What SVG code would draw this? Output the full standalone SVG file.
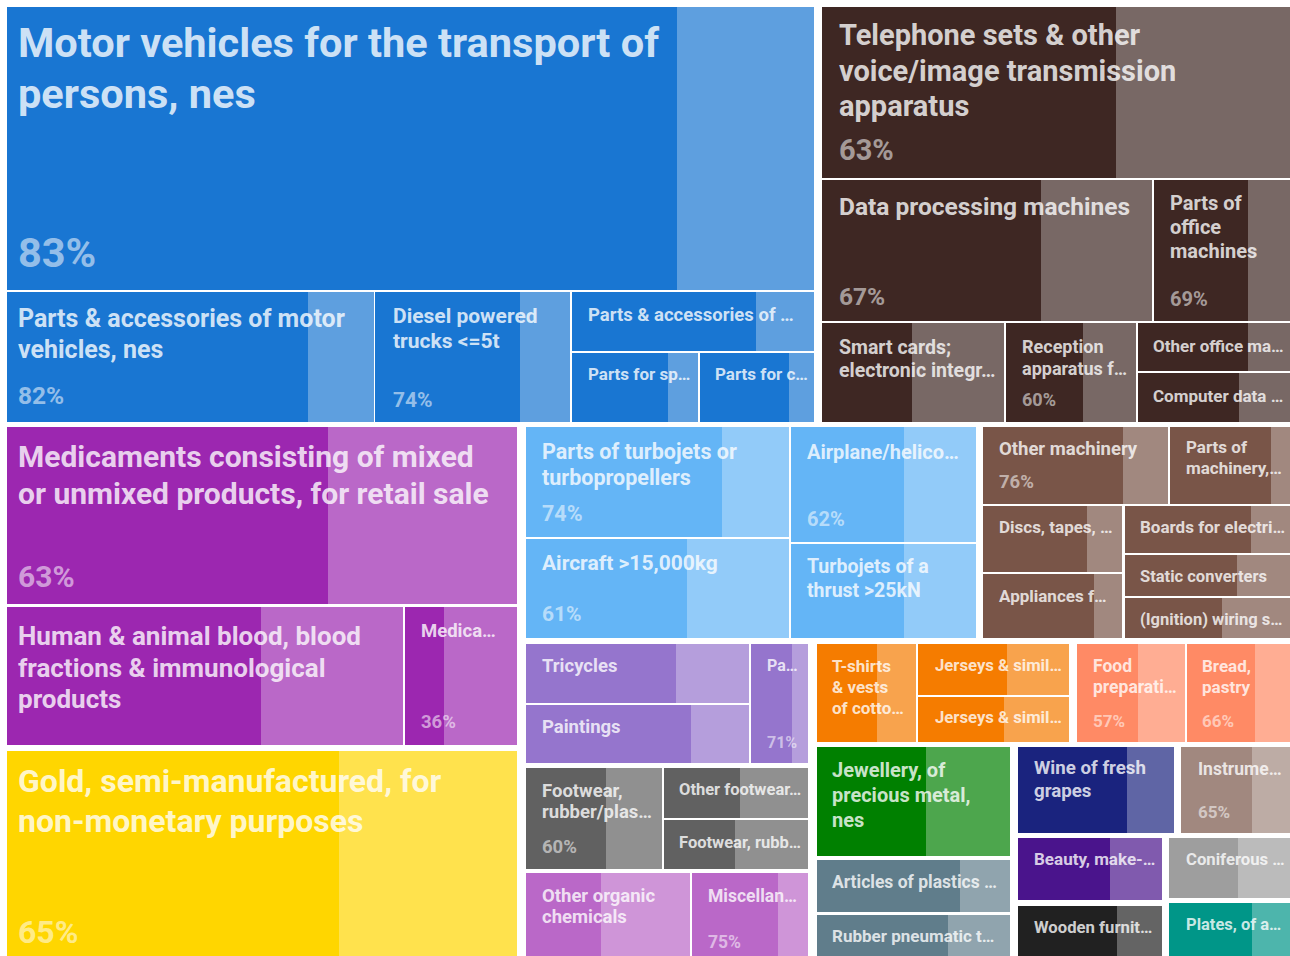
<svg xmlns="http://www.w3.org/2000/svg" width="1290" height="956" viewBox="0 0 1290 956">
<style>
text{font-family:Roboto,"Liberation Sans",Arial,sans-serif;font-weight:700;fill:#fff;fill-opacity:.8}
text.p{fill-opacity:.55}
.lt{fill:#fff;fill-opacity:.3}
.blue{fill:#1976D2}.dbr{fill:#3E2723}.pur{fill:#9C27B0}.yel{fill:#FFD600}.lbl{fill:#64B5F6}
.br2{fill:#795548}.lav{fill:#9575CD}.gry{fill:#616161}.pu2{fill:#BA68C8}.org{fill:#F57C00}
.sal{fill:#FF8A65}.grn{fill:#008000}.bgr{fill:#607D8B}.ind{fill:#1A237E}.br3{fill:#A1887F}
.dpu{fill:#4A148C}.gr2{fill:#9E9E9E}.blk{fill:#212121}.tea{fill:#009688}
.f41{font-size:41.5px}.f32{font-size:32px}.f30{font-size:30px}.f29{font-size:29px}.f26{font-size:26px}.f25{font-size:25px}.f245{font-size:24.5px}.f215{font-size:21.5px}.f21{font-size:21px}.f20{font-size:20px}.f195{font-size:19.5px}.f187{font-size:18.7px}.f185{font-size:18.5px}.f18{font-size:18px}.f175{font-size:17.5px}.f17{font-size:17px}.f167{font-size:16.7px}.f165{font-size:16.5px}.f16{font-size:16px}
</style>
<rect width="1290" height="956" fill="#fff"/>
<g id="connectors"/>

<g id="n-motor-vehicles"><rect class="blue" x="7" y="7" width="807" height="283"/><rect class="lt" x="677" y="7" width="137" height="283"/>
<text class="f41" x="18" y="57">Motor vehicles for the transport of</text><text class="f41" x="18" y="108">persons, nes</text><text class="f41 p" x="18" y="267">83%</text></g>
<g id="n-parts-acc-motor"><rect class="blue" x="7" y="292" width="367" height="130"/><rect class="lt" x="308" y="292" width="66" height="130"/>
<text class="f25" x="18" y="327">Parts &amp; accessories of motor</text><text class="f25" x="18" y="358">vehicles, nes</text><text class="f245 p" x="18" y="404">82%</text></g>
<g id="n-diesel"><rect class="blue" x="375" y="292" width="195" height="130"/><rect class="lt" x="520" y="292" width="50" height="130"/>
<text class="f21" x="393" y="323">Diesel powered</text><text class="f21" x="393" y="348">trucks &lt;=5t</text><text class="f21 p" x="393" y="407">74%</text></g>
<g id="n-parts-acc-2"><rect class="blue" x="572" y="292" width="242" height="59"/><rect class="lt" x="756" y="292" width="58" height="59"/>
<text class="f185" x="588" y="321">Parts &amp; accessories of …</text></g>
<g id="n-parts-sp"><rect class="blue" x="572" y="353" width="126" height="69"/><rect class="lt" x="668" y="353" width="30" height="69"/>
<text class="f17" x="588" y="380">Parts for sp…</text></g>
<g id="n-parts-c"><rect class="blue" x="700" y="353" width="114" height="69"/><rect class="lt" x="789" y="353" width="25" height="69"/>
<text class="f17" x="715" y="380">Parts for c…</text></g>

<g id="n-telephone"><rect class="dbr" x="822" y="7" width="468" height="171"/><rect class="lt" x="1116" y="7" width="174" height="171"/>
<text class="f29" x="839" y="45">Telephone sets &amp; other</text><text class="f29" x="839" y="81">voice/image transmission</text><text class="f29" x="839" y="116">apparatus</text><text class="f29 p" x="839" y="160">63%</text></g>
<g id="n-data-processing"><rect class="dbr" x="822" y="180" width="330" height="141"/><rect class="lt" x="1041" y="180" width="111" height="141"/>
<text class="f245" x="839" y="215">Data processing machines</text><text class="f245 p" x="839" y="305">67%</text></g>
<g id="n-parts-office"><rect class="dbr" x="1154" y="180" width="136" height="141"/><rect class="lt" x="1248" y="180" width="42" height="141"/>
<text class="f20" x="1170" y="210">Parts of</text><text class="f20" x="1170" y="234">office</text><text class="f20" x="1170" y="258">machines</text><text class="f20 p" x="1170" y="306">69%</text></g>
<g id="n-smart-cards"><rect class="dbr" x="822" y="323" width="182" height="99"/><rect class="lt" x="912" y="323" width="92" height="99"/>
<text class="f195" x="839" y="354">Smart cards;</text><text class="f195" x="839" y="377">electronic integr…</text></g>
<g id="n-reception"><rect class="dbr" x="1006" y="323" width="130" height="99"/><rect class="lt" x="1083" y="323" width="53" height="99"/>
<text class="f18" x="1022" y="353">Reception</text><text class="f18" x="1022" y="375">apparatus f…</text><text class="f18 p" x="1022" y="406">60%</text></g>
<g id="n-other-office"><rect class="dbr" x="1138" y="323" width="152" height="48"/><rect class="lt" x="1248" y="323" width="42" height="48"/>
<text class="f17" x="1153" y="352">Other office ma…</text></g>
<g id="n-computer-data"><rect class="dbr" x="1138" y="373" width="152" height="49"/><rect class="lt" x="1239" y="373" width="51" height="49"/>
<text class="f17" x="1153" y="402">Computer data …</text></g>

<g id="n-medicaments"><rect class="pur" x="7" y="427" width="510" height="177"/><rect class="lt" x="328" y="427" width="189" height="177"/>
<text class="f30" x="18" y="467">Medicaments consisting of mixed</text><text class="f30" x="18" y="504">or unmixed products, for retail sale</text><text class="f30 p" x="18" y="587">63%</text></g>
<g id="n-human-blood"><rect class="pur" x="7" y="607" width="396" height="138"/><rect class="lt" x="261" y="607" width="142" height="138"/>
<text class="f26" x="18" y="645">Human &amp; animal blood, blood</text><text class="f26" x="18" y="677">fractions &amp; immunological</text><text class="f26" x="18" y="708">products</text></g>
<g id="n-medica"><rect class="pur" x="405" y="607" width="112" height="138"/><rect class="lt" x="444" y="607" width="73" height="138"/>
<text class="f185" x="421" y="637">Medica…</text><text class="f185 p" x="421" y="728">36%</text></g>

<g id="n-gold"><rect class="yel" x="7" y="751" width="510" height="205"/><rect class="lt" x="339" y="751" width="178" height="205"/>
<text class="f32" x="18" y="792">Gold, semi-manufactured, for</text><text class="f32" x="18" y="832">non-monetary purposes</text><text class="f32 p" x="18" y="943">65%</text></g>

<g id="n-turbojet-parts"><rect class="lbl" x="526" y="427" width="263" height="110"/><rect class="lt" x="722" y="427" width="67" height="110"/>
<text class="f215" x="542" y="459">Parts of turbojets or</text><text class="f215" x="542" y="485">turbopropellers</text><text class="f215 p" x="542" y="521">74%</text></g>
<g id="n-aircraft"><rect class="lbl" x="526" y="539" width="263" height="99"/><rect class="lt" x="687" y="539" width="102" height="99"/>
<text class="f21" x="542" y="570">Aircraft &gt;15,000kg</text><text class="f21 p" x="542" y="621">61%</text></g>
<g id="n-airplane"><rect class="lbl" x="791" y="427" width="185" height="115"/><rect class="lt" x="904" y="427" width="72" height="115"/>
<text class="f20" x="807" y="459">Airplane/helico…</text><text class="f20 p" x="807" y="526">62%</text></g>
<g id="n-turbojets-thrust"><rect class="lbl" x="791" y="544" width="185" height="94"/><rect class="lt" x="904" y="544" width="72" height="94"/>
<text class="f195" x="807" y="573">Turbojets of a</text><text class="f195" x="807" y="597">thrust &gt;25kN</text></g>

<g id="n-other-machinery"><rect class="br2" x="983" y="427" width="185" height="77"/><rect class="lt" x="1123" y="427" width="45" height="77"/>
<text class="f185" x="999" y="455">Other machinery</text><text class="f185 p" x="999" y="488">76%</text></g>
<g id="n-parts-machinery"><rect class="br2" x="1170" y="427" width="120" height="77"/><rect class="lt" x="1271" y="427" width="19" height="77"/>
<text class="f17" x="1186" y="453">Parts of</text><text class="f17" x="1186" y="474">machinery,…</text></g>
<g id="n-discs"><rect class="br2" x="983" y="506" width="139" height="66"/><rect class="lt" x="1087" y="506" width="35" height="66"/>
<text class="f17" x="999" y="533">Discs, tapes, …</text></g>
<g id="n-appliances"><rect class="br2" x="983" y="574" width="139" height="64"/><rect class="lt" x="1094" y="574" width="28" height="64"/>
<text class="f17" x="999" y="602">Appliances f…</text></g>
<g id="n-boards"><rect class="br2" x="1125" y="506" width="165" height="47"/><rect class="lt" x="1251" y="506" width="39" height="47"/>
<text class="f17" x="1140" y="533">Boards for electri…</text></g>
<g id="n-static"><rect class="br2" x="1125" y="555" width="165" height="41"/><rect class="lt" x="1237" y="555" width="53" height="41"/>
<text class="f165" x="1140" y="582">Static converters</text></g>
<g id="n-ignition"><rect class="br2" x="1125" y="598" width="165" height="40"/><rect class="lt" x="1222" y="598" width="68" height="40"/>
<text class="f165" x="1140" y="625">(Ignition) wiring s…</text></g>

<g id="n-tricycles"><rect class="lav" x="526" y="644" width="223" height="59"/><rect class="lt" x="676" y="644" width="73" height="59"/>
<text class="f185" x="542" y="672">Tricycles</text></g>
<g id="n-paintings"><rect class="lav" x="526" y="705" width="223" height="58"/><rect class="lt" x="691" y="705" width="58" height="58"/>
<text class="f185" x="542" y="733">Paintings</text></g>
<g id="n-pa"><rect class="lav" x="751" y="644" width="57" height="119"/><rect class="lt" x="792" y="644" width="16" height="119"/>
<text class="f16" x="767" y="671">Pa…</text><text class="f16 p" x="767" y="748">71%</text></g>

<g id="n-footwear-rubber"><rect class="gry" x="526" y="768" width="136" height="101"/><rect class="lt" x="606" y="768" width="56" height="101"/>
<text class="f185" x="542" y="797">Footwear,</text><text class="f185" x="542" y="818">rubber/plas…</text><text class="f185 p" x="542" y="853">60%</text></g>
<g id="n-other-footwear"><rect class="gry" x="664" y="768" width="144" height="50"/><rect class="lt" x="740" y="768" width="68" height="50"/>
<text class="f165" x="679" y="795">Other footwear…</text></g>
<g id="n-footwear-rubb"><rect class="gry" x="664" y="820" width="144" height="49"/><rect class="lt" x="735" y="820" width="73" height="49"/>
<text class="f165" x="679" y="848">Footwear, rubb…</text></g>

<g id="n-organic-chemicals"><rect class="pu2" x="526" y="873" width="164" height="83"/><rect class="lt" x="601" y="873" width="89" height="83"/>
<text class="f185" x="542" y="902">Other organic</text><text class="f185" x="542" y="923">chemicals</text></g>
<g id="n-miscellan"><rect class="pu2" x="692" y="873" width="116" height="83"/><rect class="lt" x="778" y="873" width="30" height="83"/>
<text class="f175" x="708" y="902">Miscellan…</text><text class="f175 p" x="708" y="948">75%</text></g>

<g id="n-tshirts"><rect class="org" x="817" y="644" width="99" height="98"/><rect class="lt" x="877" y="644" width="39" height="98"/>
<text class="f17" x="832" y="672">T-shirts</text><text class="f17" x="832" y="693">&amp; vests</text><text class="f17" x="832" y="714">of cotto…</text></g>
<g id="n-jerseys-1"><rect class="org" x="918" y="644" width="151" height="51"/><rect class="lt" x="1007" y="644" width="62" height="51"/>
<text class="f167" x="935" y="671">Jerseys &amp; simil…</text></g>
<g id="n-jerseys-2"><rect class="org" x="918" y="697" width="151" height="45"/><rect class="lt" x="1004" y="697" width="65" height="45"/>
<text class="f167" x="935" y="723">Jerseys &amp; simil…</text></g>

<g id="n-food"><rect class="sal" x="1077" y="644" width="108" height="98"/><rect class="lt" x="1138" y="644" width="47" height="98"/>
<text class="f175" x="1093" y="672">Food</text><text class="f175" x="1093" y="693">preparati…</text><text class="f17 p" x="1093" y="727">57%</text></g>
<g id="n-bread"><rect class="sal" x="1187" y="644" width="103" height="98"/><rect class="lt" x="1255" y="644" width="35" height="98"/>
<text class="f17" x="1202" y="672">Bread,</text><text class="f17" x="1202" y="693">pastry</text><text class="f17 p" x="1202" y="727">66%</text></g>

<g id="n-jewellery"><rect class="grn" x="817" y="747" width="193" height="109"/><rect class="lt" x="926" y="747" width="84" height="109"/>
<text class="f20" x="832" y="777">Jewellery, of</text><text class="f20" x="832" y="802">precious metal,</text><text class="f20" x="832" y="827">nes</text></g>
<g id="n-plastics"><rect class="bgr" x="817" y="860" width="193" height="52"/><rect class="lt" x="960" y="860" width="50" height="52"/>
<text class="f175" x="832" y="888">Articles of plastics …</text></g>
<g id="n-rubber-pneumatic"><rect class="bgr" x="817" y="915" width="193" height="41"/><rect class="lt" x="948" y="915" width="62" height="41"/>
<text class="f17" x="832" y="942">Rubber pneumatic t…</text></g>

<g id="n-wine"><rect class="ind" x="1018" y="747" width="156" height="86"/><rect class="lt" x="1127" y="747" width="47" height="86"/>
<text class="f187" x="1034" y="774">Wine of fresh</text><text class="f187" x="1034" y="797">grapes</text></g>
<g id="n-instruments"><rect class="br3" x="1181" y="747" width="109" height="86"/><rect class="lt" x="1252" y="747" width="38" height="86"/>
<text class="f175" x="1198" y="775">Instrume…</text><text class="f17 p" x="1198" y="818">65%</text></g>
<g id="n-beauty"><rect class="dpu" x="1018" y="838" width="144" height="62"/><rect class="lt" x="1110" y="838" width="52" height="62"/>
<text class="f17" x="1034" y="865">Beauty, make-…</text></g>
<g id="n-coniferous"><rect class="gr2" x="1169" y="838" width="121" height="60"/><rect class="lt" x="1238" y="838" width="52" height="60"/>
<text class="f167" x="1186" y="865">Coniferous …</text></g>
<g id="n-wooden"><rect class="blk" x="1018" y="906" width="144" height="50"/><rect class="lt" x="1117" y="906" width="45" height="50"/>
<text class="f167" x="1034" y="933">Wooden furnit…</text></g>
<g id="n-plates"><rect class="tea" x="1169" y="903" width="121" height="53"/><rect class="lt" x="1252" y="903" width="38" height="53"/>
<text class="f165" x="1186" y="930">Plates, of a…</text></g>
</svg>
